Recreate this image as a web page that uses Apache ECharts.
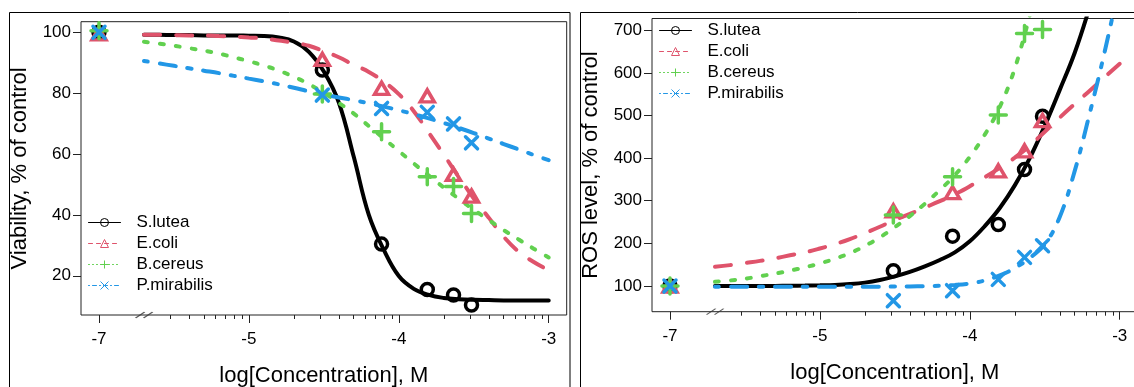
<!DOCTYPE html>
<html><head><meta charset="utf-8">
<script src="https://cdn.jsdelivr.net/npm/echarts@6/dist/echarts.min.js"></script>
<style>html,body{margin:0;padding:0;background:#fff;overflow:hidden}#c{width:1134px;height:387px}</style>
</head><body><div id="c"></div>
<script>
// ---------------- data ----------------
const species = ['S.lutea', 'E.coli', 'B.cereus', 'P.mirabilis'];
const colors = ['#000000', '#DF536B', '#61D04F', '#2297E6'];

// x positions (log10 of concentration, M). The control (0 M) is drawn at the
// axis-break slot labelled "-7".
const pointX = [-6, -4.51, -4.115, -3.81, -3.635, -3.515];
const xTickValues = [-6, -5, -4, -3];
const xTickLabels = ['-7', '-5', '-4', '-3'];

// Panel 1: viability, % of control (measured points)
const viabSlutea = [100, 87.6, 30.4, 15.5, 13.7, 10.4];
const viabEcoli = [99.5, 91.1, 81.6, 79.1, 53.3, 46.2];
const viabBcereus = [100.5, 79.7, 67.3, 52.5, 49.3, 40.5];
const viabPmirabilis = [100, 79.4, 75.0, 73.7, 69.9, 63.7];

// Panel 2: ROS level, % of control (measured points)
const rosSlutea = [100, 135.9, 217, 244.5, 373.4, 498.4];
const rosEcoli = [100, 276, 319, 370, 417, 488];
const rosBcereus = [100, 266.4, 356, 500.8, 692, 701.6];
const rosPmirabilis = [100, 65.6, 89, 115.6, 167.2, 194.5];

// fitted curves at these x positions
const curveX = [-5.7, -5.6, -5.5, -5.4, -5.3, -5.2, -5.1, -5.0, -4.9, -4.8, -4.7, -4.6, -4.5, -4.4,
  -4.3, -4.2, -4.1, -4.0, -3.9, -3.8, -3.7, -3.6, -3.5, -3.4, -3.3, -3.2, -3.1, -3.0];

const viabFitSlutea = [99.2, 99.2, 99.1, 99.1, 99.0, 99.0, 99.0, 98.9, 98.8, 98.3, 97.0, 93.6, 87.1, 76.9,
  59.0, 40.0, 28.5, 19.9, 15.7, 13.7, 12.7, 12.3, 12.1, 12.0, 11.9, 11.9, 11.9, 11.9];
const viabFitEcoli = [99.2, 99.2, 99.1, 99.0, 99.0, 98.8, 98.6, 98.3, 98.0, 97.3, 96.6, 95.6, 93.8, 91.8,
  89.3, 87.0, 83.8, 79.7, 74.1, 67.0, 59.8, 52.5, 45.4, 39.1, 32.8, 27.9, 24.5, 21.8];
const viabFitBcereus = [96.9, 96.3, 95.6, 94.8, 94.0, 93.0, 91.8, 90.5, 89.1, 87.4, 85.4, 83.0, 80.1, 76.8,
  73.3, 69.2, 65.1, 61.0, 56.9, 52.9, 49.0, 45.3, 41.7, 38.3, 35.0, 31.9, 28.9, 26.0];
const viabFitPmirabilis = [90.6, 89.8, 89.0, 88.2, 87.4, 86.6, 85.7, 84.8, 83.9, 82.9, 81.8, 80.6, 79.5, 78.6,
  77.7, 76.7, 75.6, 74.4, 73.1, 71.7, 70.2, 68.6, 66.9, 65.1, 63.3, 61.5, 59.7, 58.0];

const rosFitSlutea = [100, 100, 100, 100.1, 100.3, 100.6, 101, 101.6, 102.5, 104.5, 108, 114, 122.5, 133,
  146, 161, 179, 205, 240.5, 283, 336, 400, 476, 560, 647, 755, null, null];
const rosFitEcoli = [145, 149, 154, 159, 165, 172, 179, 188, 198, 210, 224, 239, 255, 269,
  284, 299, 315, 334, 355, 377, 401, 429, 462, 495, 527, 558, 590, 621];
const rosFitBcereus = [110, 113, 117, 123, 129, 136, 144, 153, 164, 177, 194, 214, 238, 264,
  293, 325, 360, 403, 455, 520, 610, 735, null, null, null, null, null, null];
const rosFitPmirabilis = [98.5, 98.5, 98.5, 98.5, 98.5, 98.5, 98.5, 98.5, 98.5, 98.5, 98.5, 98.5, 98.7, 99,
  99.7, 100.8, 102.5, 106, 113, 125, 142, 166, 198, 262, 370, 505, 650, 810];

const yTicksViab = [20, 40, 60, 80, 100];
const yTicksRos = [100, 200, 300, 400, 500, 600, 700];
const breakX = -5.699;

// ---------------- style ----------------
const FONT = "'Liberation Sans', Arial, Helvetica, sans-serif";
const PLUS = 'path://M5,0 L5,10 M0,5 L10,5';
const CROSS = 'path://M0,0 L10,10 M10,0 L0,10';
const BREAK = 'path://M0,6 L9,0 M8,6 L17,0';
const plotSymbols = ['circle', 'triangle', PLUS, CROSS];
const plotSizes = [12, [14, 12], 16, 12];
const curveDash = ['solid', [16, 16], [4, 12], [4, 12, 16, 12]];
const legendDash = ['solid', [4, 4], [1, 3], [1, 3, 4, 3]];

const panels = [
  { pts: [viabSlutea, viabEcoli, viabBcereus, viabPmirabilis],
    fit: [viabFitSlutea, viabFitEcoli, viabFitBcereus, viabFitPmirabilis],
    yTicks: yTicksViab, yMin: 7.1, yMax: 103.5, yName: 'Viability, % of control',
    grid: { left: 81, top: 21.7, width: 485.7, height: 293.3 }, legend: { left: 88, top: 214 } },
  { pts: [rosSlutea, rosEcoli, rosBcereus, rosPmirabilis],
    fit: [rosFitSlutea, rosFitEcoli, rosFitBcereus, rosFitPmirabilis],
    yTicks: yTicksRos, yMin: 39.8, yMax: 727.4, yName: 'ROS level, % of control',
    grid: { left: 652, top: 18.5, width: 485.7, height: 293.2 }, legend: { left: 659, top: 22 } }
];

const minorTicks = [];
[-6, -5, -4].forEach(d => {
  for (let k = 2; k <= 9; k++) {
    if (d === -6 && k === 2) continue; // hidden by the axis break
    minorTicks.push(d + Math.log10(k));
  }
});

const grids = [], xAxes = [], yAxes = [], series = [], legends = [];
panels.forEach((p, g) => {
  grids.push(Object.assign({ show: true, borderColor: '#222', borderWidth: 1,
    containLabel: false, outerBoundsMode: 'none' }, p.grid));
  xAxes.push({
    type: 'value', gridIndex: g, min: -6.12, max: -2.88, position: 'bottom',
    axisLine: { show: false }, splitLine: { show: false },
    axisTick: { customValues: xTickValues, length: 8, lineStyle: { color: '#222', width: 1 } },
    axisLabel: { customValues: xTickValues, formatter: v => xTickLabels[xTickValues.indexOf(v)],
      margin: 16, fontSize: 17, color: '#000', fontFamily: FONT },
    name: 'log[Concentration], M', nameLocation: 'middle', nameGap: 50,
    nameTextStyle: { fontSize: 22, color: '#000', fontFamily: FONT }
  });
  xAxes.push({
    type: 'value', gridIndex: g, min: -6.12, max: -2.88, position: 'bottom',
    axisLine: { show: false }, splitLine: { show: false }, axisLabel: { show: false },
    axisTick: { customValues: minorTicks, length: 4, lineStyle: { color: '#222', width: 1 } }
  });
  yAxes.push({
    type: 'value', gridIndex: g, min: p.yMin, max: p.yMax,
    axisLine: { show: false }, splitLine: { show: false },
    axisTick: { customValues: p.yTicks, length: 8, lineStyle: { color: '#222', width: 1 } },
    axisLabel: { customValues: p.yTicks, margin: 10, fontSize: 17, color: '#000', fontFamily: FONT },
    name: p.yName, nameLocation: 'middle', nameGap: 50, nameRotate: 90,
    nameTextStyle: { fontSize: 22, color: '#000', fontFamily: FONT }
  });
  species.forEach((sp, s) => {
    const col = colors[s];
    series.push({
      type: 'line', name: sp, xAxisIndex: g * 2, yAxisIndex: g,
      data: curveX.map((x, i) => [x, p.fit[s][i]]),
      smooth: 0.4, showSymbol: false,
      symbol: plotSymbols[s], symbolSize: 8,
      itemStyle: { color: 'rgba(0,0,0,0)', borderColor: col, borderWidth: 1 },
      lineStyle: { color: col, width: 4, type: curveDash[s], cap: 'round' },
      silent: true, z: 2
    });
    series.push({
      type: 'scatter', name: sp + ' (measured)', xAxisIndex: g * 2, yAxisIndex: g,
      data: pointX.map((x, i) => [x, p.pts[s][i]]),
      symbol: plotSymbols[s], symbolSize: plotSizes[s], clip: false,
      itemStyle: { color: 'rgba(0,0,0,0)', borderColor: col, borderWidth: 3.5, borderCap: 'round', opacity: 1 },
      silent: true, z: 3
    });
  });
  series.push({
    type: 'scatter', name: 'axis break ' + g, xAxisIndex: g * 2, yAxisIndex: g,
    data: [[breakX, p.yMin]], symbol: BREAK, symbolSize: [17, 6], clip: false,
    itemStyle: { color: 'rgba(0,0,0,0)', borderColor: '#333', borderWidth: 1 }, silent: true, z: 4
  });
  legends.push({
    orient: 'vertical', left: p.legend.left, top: p.legend.top,
    itemWidth: 32, itemHeight: 10, itemGap: 4, selectedMode: false, padding: 0,
    textStyle: { fontSize: 17, color: '#000', fontFamily: FONT, lineHeight: 17, padding: [0, 0, 0, 11] },
    data: species.map((sp, s) => ({ name: sp,
      lineStyle: { width: 1, type: legendDash[s], color: colors[s] },
      itemStyle: { color: 'rgba(0,0,0,0)', borderColor: colors[s], borderWidth: 1 } }))
  });
});

const chart = echarts.init(document.getElementById('c'), null, { renderer: 'canvas' });
chart.setOption({
  animation: false,
  backgroundColor: '#fff',
  textStyle: { fontFamily: FONT },
  grid: grids, xAxis: xAxes, yAxis: yAxes, legend: legends, series: series,
  graphic: [
    { type: 'rect', shape: { x: 9.5, y: 12.5, width: 560.5, height: 500 },
      style: { fill: 'none', stroke: '#000', lineWidth: 1 }, silent: true, z: 0 },
    { type: 'rect', shape: { x: 580.5, y: 12.5, width: 700, height: 500 },
      style: { fill: 'none', stroke: '#000', lineWidth: 1 }, silent: true, z: 0 }
  ]
});
</script></body></html>
